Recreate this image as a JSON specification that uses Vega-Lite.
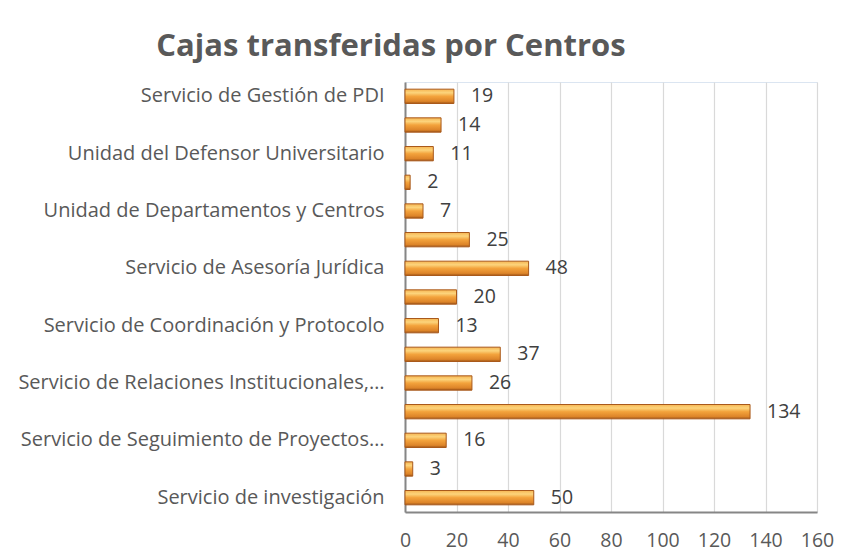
{
  "$schema": "https://vega.github.io/schema/vega-lite/v6.json",
  "width": 412,
  "height": 430,
  "padding": {"left": 17, "top": 31, "right": 5, "bottom": 8},
  "background": "#ffffff",
  "title": {
    "text": "Cajas transferidas por Centros",
    "font": "Open Sans",
    "fontSize": 31,
    "fontWeight": "bold",
    "color": "#595959",
    "anchor": "middle",
    "frame": "group",
    "dx": -220,
    "offset": 19
  },
  "config": {
    "view": {"stroke": "#dbe5f1", "strokeWidth": 1},
    "font": "Open Sans"
  },
  "data": {
    "values": [
      {"centro": "Servicio de Gestión de PDI", "cajas": 19},
      {"centro": "Servicio de Gestión de PAS", "cajas": 14},
      {"centro": "Unidad del Defensor Universitario", "cajas": 11},
      {"centro": "Gabinete del Rector", "cajas": 2},
      {"centro": "Unidad de Departamentos y Centros", "cajas": 7},
      {"centro": "Secretaría General", "cajas": 25},
      {"centro": "Servicio de Asesoría Jurídica", "cajas": 48},
      {"centro": "Servicio de Contratación", "cajas": 20},
      {"centro": "Servicio de Coordinación y Protocolo", "cajas": 13},
      {"centro": "Servicio de Gestión Económica", "cajas": 37},
      {"centro": "Servicio de Relaciones Institucionales,…", "cajas": 26},
      {"centro": "Servicio de Gestión Académica", "cajas": 134},
      {"centro": "Servicio de Seguimiento de Proyectos…", "cajas": 16},
      {"centro": "Servicio de Control Interno", "cajas": 3},
      {"centro": "Servicio de investigación", "cajas": 50}
    ]
  },
  "encoding": {
    "y": {
      "field": "centro",
      "type": "nominal",
      "sort": null,
      "scale": {"paddingInner": 0.5, "paddingOuter": 0.25},
      "axis": {
        "title": null,
        "values": [
          "Servicio de Gestión de PDI",
          "Unidad del Defensor Universitario",
          "Unidad de Departamentos y Centros",
          "Servicio de Asesoría Jurídica",
          "Servicio de Coordinación y Protocolo",
          "Servicio de Relaciones Institucionales,…",
          "Servicio de Seguimiento de Proyectos…",
          "Servicio de investigación"
        ],
        "ticks": false,
        "labelFont": "Open Sans",
        "labelFontSize": 20,
        "labelColor": "#595959",
        "labelPadding": 21,
        "labelLimit": 500,
        "domainColor": "#868686",
        "domainWidth": 2,
        "grid": false
      }
    },
    "x": {
      "field": "cajas",
      "type": "quantitative",
      "scale": {"domain": [0, 160], "nice": false},
      "axis": {
        "title": null,
        "values": [0, 20, 40, 60, 80, 100, 120, 140, 160],
        "ticks": false,
        "labelFlush": false,
        "labelOverlap": false,
        "labelFont": "Open Sans",
        "labelFontSize": 19.5,
        "labelColor": "#595959",
        "labelPadding": 19,
        "domainColor": "#868686",
        "domainWidth": 2,
        "grid": true,
        "gridColor": "#d9d9d9",
        "gridWidth": 1.2
      }
    }
  },
  "layer": [
    {
      "mark": {
        "type": "bar",
        "stroke": "#a9591b",
        "strokeWidth": 1,
        "color": {
          "gradient": "linear",
          "x1": 0, "y1": 0, "x2": 0, "y2": 1,
          "stops": [
            {"offset": 0, "color": "#f6b552"},
            {"offset": 0.25, "color": "#fcd47c"},
            {"offset": 0.5, "color": "#f3a33c"},
            {"offset": 0.85, "color": "#dd8429"},
            {"offset": 1, "color": "#9c5416"}
          ]
        }
      }
    },
    {
      "mark": {
        "type": "text",
        "align": "left",
        "baseline": "middle",
        "dx": 17,
        "font": "Open Sans",
        "fontSize": 19.5,
        "color": "#404040"
      },
      "encoding": {"text": {"field": "cajas", "type": "quantitative"}}
    }
  ]
}
